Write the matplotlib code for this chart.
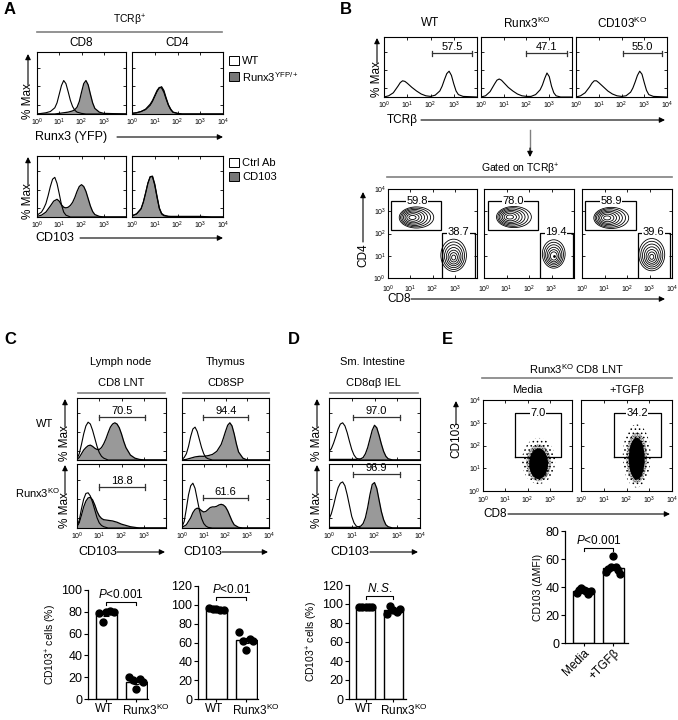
import numpy as np
import matplotlib
matplotlib.use("Agg")
import matplotlib.pyplot as plt
from matplotlib.patches import Ellipse, Rectangle
from matplotlib.transforms import ScaledTranslation

plt.rcParams.update({
    "font.family": ["Liberation Sans", "DejaVu Sans"],
    "mathtext.fontset": "custom",
    "mathtext.rm": "Liberation Sans",
    "mathtext.it": "Liberation Sans:italic",
    "mathtext.bf": "Liberation Sans:bold",
    "mathtext.sf": "Liberation Sans",
    "hatch.linewidth": 0.6,
})

# ------------------------------------------------------------------ data
# Panel A : histograms (x = log10 fluorescence, y = % of max, box = 100)
a_top_cd8_wt_x = [0, 0.4, 0.6, 0.8, 0.9, 1.0, 1.1, 1.2, 1.3, 1.4, 1.5, 1.6, 1.7, 1.8, 2.0, 2.2, 4.0]
a_top_cd8_wt_y = [0, 2, 4, 10, 18, 32, 46, 54, 49, 36, 22, 12, 6, 3, 1, 0, 0]
a_top_cd8_yfp_x = [0, 0.8, 1.0, 1.2, 1.4, 1.6, 1.7, 1.8, 1.9, 2.0, 2.1, 2.2, 2.3, 2.4, 2.5, 2.6, 2.8, 3.0, 4.0]
a_top_cd8_yfp_y = [0, 0, 1, 2, 3, 5, 7, 11, 20, 35, 49, 54, 47, 32, 18, 9, 3, 1, 0]
a_top_cd4_x = [0, 0.2, 0.4, 0.6, 0.8, 0.9, 1.0, 1.1, 1.2, 1.3, 1.4, 1.5, 1.6, 1.7, 1.8, 2.0, 2.2, 4.0]
a_top_cd4_wt_y = [1, 2, 4, 8, 16, 22, 30, 38, 43, 42, 35, 24, 14, 7, 3, 1, 0, 0]
a_top_cd4_yfp_y = [1, 2, 4, 7, 14, 20, 28, 36, 42, 44, 38, 26, 15, 8, 3, 1, 0, 0]

a_bot_cd8_ctrl_x = [0, 0.2, 0.3, 0.4, 0.5, 0.6, 0.7, 0.8, 0.9, 1.0, 1.1, 1.2, 1.3, 1.5, 4.0]
a_bot_cd8_ctrl_y = [3, 8, 14, 22, 35, 50, 62, 65, 55, 38, 20, 8, 3, 0, 0]
a_bot_cd8_cd103_x = [0, 0.2, 0.4, 0.6, 0.75, 0.9, 1.0, 1.1, 1.2, 1.3, 1.4, 1.5, 1.6, 1.7, 1.8,
                     1.9, 2.0, 2.1, 2.2, 2.3, 2.4, 2.5, 2.6, 2.8, 3.0, 4.0]
a_bot_cd8_cd103_y = [1, 3, 8, 18, 26, 29, 26, 20, 16, 15, 16, 19, 24, 32, 42,
                     50, 53, 50, 42, 30, 18, 9, 4, 1, 0, 0]
a_bot_cd4_x = [0, 0.2, 0.4, 0.5, 0.6, 0.7, 0.8, 0.9, 1.0, 1.1, 1.2, 1.3, 1.4, 1.6, 2.0, 3.0, 3.5, 4.0]
a_bot_cd4_ctrl_y = [2, 5, 14, 25, 40, 56, 66, 66, 52, 32, 14, 5, 2, 1, 0, 0, 0, 0]
a_bot_cd4_cd103_y = [2, 5, 13, 24, 39, 55, 66, 67, 54, 34, 15, 6, 3, 1, 1, 1, 0, 0]

# Panel B : TCRb histograms
b_hist_titles = ["WT", "Runx3$^{\\mathrm{KO}}$", "CD103$^{\\mathrm{KO}}$"]
b_wt_x = [0, 0.2, 0.4, 0.6, 0.7, 0.8, 0.9, 1.0, 1.2, 1.4, 1.6, 1.8, 2.0, 2.2, 2.4, 2.5,
          2.6, 2.7, 2.8, 2.9, 3.0, 3.1, 3.2, 3.4, 4.0]
b_wt_y = [0, 2, 7, 18, 24, 27, 26, 23, 16, 10, 5, 2, 1, 3, 10, 18, 29, 39, 43, 36, 22, 10, 4, 1, 0]
b_ko_x = [0, 0.2, 0.4, 0.6, 0.7, 0.8, 0.9, 1.0, 1.2, 1.4, 1.6, 1.8, 2.0, 2.2, 2.4, 2.6,
          2.7, 2.8, 2.9, 3.0, 3.1, 3.2, 3.3, 3.5, 4.0]
b_ko_y = [0, 2, 9, 22, 28, 30, 28, 24, 16, 10, 5, 2, 1, 1, 4, 12, 20, 31, 40, 34, 18, 7, 2, 0, 0]
b_cd103ko_x = b_wt_x
b_cd103ko_y = [0, 2, 7, 17, 23, 27, 27, 24, 17, 10, 5, 2, 1, 2, 8, 15, 25, 36, 43, 38, 24, 11, 4, 1, 0]
b_tcr_pct = ["57.5", "47.1", "55.0"]
b_tcr_gate = [(2.06, 3.8), (2.0, 3.8), (2.07, 3.8)]

# Panel B : CD4/CD8 contour populations (log10 units)
b_cd4_pct = ["59.8", "78.0", "58.9"]
b_cd8_pct = ["38.7", "19.4", "39.6"]
b_cd4_center = [(1.10, 2.72), (1.15, 2.74), (1.12, 2.70)]
b_cd8_center = [(2.95, 0.92), (3.10, 0.98), (3.10, 0.95)]
b_cd8_rings = [7, 6, 7]
b_cd8_scale = [1.0, 0.88, 1.0]
b_cd4_ring_w = [1.55, 1.35, 1.15, 0.95, 0.75, 0.55, 0.32]
b_cd4_ring_h = [0.95, 0.84, 0.72, 0.60, 0.48, 0.34, 0.18]
b_cd4_ring_dx = [0.18, 0.14, 0.10, 0.07, 0.04, 0.02, 0.0]
b_cd8_ring_w = [1.15, 0.98, 0.82, 0.66, 0.50, 0.34, 0.18]
b_cd8_ring_h = [1.45, 1.24, 1.03, 0.82, 0.62, 0.42, 0.22]
b_cd8_ring_dy = [0.10, 0.08, 0.06, 0.04, 0.02, 0.01, 0.0]
b_cd4_gate = [(0.13, 2.38, 2.16, 3.46), (0.18, 2.38, 2.16, 3.46), (0.13, 2.38, 2.16, 3.46)]
b_cd8_gate = [(2.43, 3.90, 0.0, 2.02), (2.47, 3.95, 0.0, 2.02), (2.47, 3.90, 0.0, 2.02)]

# Panel C : CD103 histograms
c_x_peak = [0, 0.1, 0.2, 0.3, 0.4, 0.5, 0.6, 0.7, 0.8, 0.9, 1.0, 1.1, 1.2, 1.4, 4.0]
c_ln_wt_ctrl_y = [2, 10, 25, 42, 55, 61, 58, 48, 35, 22, 12, 6, 3, 0, 0]
c_ln_wt_x = [0, 0.1, 0.2, 0.3, 0.4, 0.5, 0.6, 0.7, 0.8, 0.9, 1.0, 1.1, 1.2, 1.3, 1.4, 1.5,
             1.6, 1.7, 1.8, 1.9, 2.0, 2.1, 2.2, 2.4, 2.6, 2.8, 3.0, 4.0]
c_ln_wt_y = [1, 4, 10, 16, 20, 23, 24, 22, 19, 17, 17, 20, 26, 34, 44, 53,
             58, 60, 58, 52, 42, 30, 20, 8, 3, 1, 0, 0]
c_ln_ko_ctrl_y = [3, 12, 30, 45, 54, 55, 50, 40, 28, 16, 8, 4, 2, 0, 0]
c_ln_ko_x = [0, 0.1, 0.2, 0.3, 0.4, 0.5, 0.6, 0.7, 0.8, 0.9, 1.0, 1.1, 1.2, 1.4, 1.6, 1.8,
             2.0, 2.2, 2.4, 2.6, 2.8, 4.0]
c_ln_ko_y = [2, 8, 20, 33, 42, 47, 48, 44, 36, 26, 19, 15, 13, 12, 11, 9, 6, 4, 2, 1, 0, 0]
c_th_wt_ctrl_y = [1, 4, 10, 22, 38, 50, 53, 46, 33, 20, 10, 4, 2, 0, 0]
c_th_wt_x = [0, 0.2, 0.4, 0.6, 0.8, 1.0, 1.2, 1.4, 1.6, 1.8, 1.9, 2.0, 2.1, 2.2, 2.3, 2.4,
             2.5, 2.6, 2.8, 3.0, 4.0]
c_th_wt_y = [0, 1, 3, 5, 6, 6, 7, 9, 14, 25, 35, 46, 56, 60, 55, 42, 26, 13, 3, 0, 0]
c_th_ko_ctrl_y = [2, 10, 30, 52, 66, 70, 62, 45, 28, 15, 7, 3, 1, 0, 0]
c_th_ko_x = [0, 0.2, 0.4, 0.5, 0.6, 0.7, 0.8, 0.9, 1.0, 1.1, 1.2, 1.3, 1.4, 1.5, 1.6, 1.7,
             1.8, 1.9, 2.0, 2.1, 2.2, 2.3, 2.4, 2.6, 2.8, 4.0]
c_th_ko_y = [1, 5, 16, 24, 29, 31, 30, 27, 25, 26, 29, 32, 33, 33, 34, 36,
             37, 36, 33, 27, 19, 11, 5, 1, 0, 0]
c_pct = ["70.5", "94.4", "18.8", "61.6"]

# Panel D : CD103 histograms (IEL)
d_wt_ctrl_y = [14, 18, 27, 38, 50, 58, 60, 55, 44, 30, 17, 8, 3, 0, 0]
d_ko_ctrl_y = [14, 22, 35, 50, 63, 70, 72, 66, 52, 35, 18, 8, 3, 0, 0]
d_pos_x = [0, 1.2, 1.4, 1.5, 1.6, 1.7, 1.8, 1.9, 2.0, 2.1, 2.2, 2.3, 2.4, 2.5, 2.6, 2.8, 4.0]
d_wt_y = [1, 1, 2, 4, 10, 20, 34, 48, 56, 52, 40, 26, 14, 6, 2, 0, 0]
d_ko_y = [1, 1, 3, 7, 16, 32, 52, 68, 71, 62, 44, 26, 13, 5, 2, 0, 0]
d_pct = ["97.0", "96.9"]

# Panel E : dot plots (population core / spread in log10 units)
e_titles = ["Media", "+TGFβ"]
e_pct = ["7.0", "34.2"]
e_center = [(2.50, 1.20), (2.45, 1.42)]
e_core_size = [(0.85, 1.35), (0.70, 1.85)]

# Bar graphs
bar_labels = ["WT", "Runx3$^{\\mathrm{KO}}$"]
c_ln_wt_vals = [79, 71, 80, 81, 80]
c_ln_ko_vals = [20, 17, 9, 18, 16]
c_th_wt_vals = [97, 96, 96, 95, 95]
c_th_ko_vals = [71, 62, 52, 64, 62]
d_wt_vals = [97, 97, 97, 97, 97]
d_ko_vals = [90, 98, 94, 92, 95]
e_labels = ["Media", "+TGFβ"]
e_media_vals = [36, 38, 39, 38, 37, 35, 37]
e_tgf_vals = [51, 53, 54, 62, 54, 52, 49]

# ------------------------------------------------------------------ figure
W, H = 678, 720
fig = plt.figure(figsize=(W / 100, H / 100), dpi=100)
GRAY = "#999999"
LINEGRAY = "#808080"


def add_ax(x0, y0, x1, y1):
    return fig.add_axes([x0 / W, 1 - y1 / H, (x1 - x0) / W, (y1 - y0) / H])


def dec_labels(last=True):
    labs = ["$10^{%d}$" % i for i in range(5)]
    if not last:
        labs[-1] = ""
    return labs


def flow_ax(box, xlabels=True, last=True, ylim=100, ylabels=False):
    ax = add_ax(*box)
    ax.set_xlim(0, 4)
    ax.set_ylim(0, ylim)
    ax.set_xticks(range(5))
    if xlabels:
        ax.set_xticklabels(dec_labels(last))
    else:
        ax.set_xticklabels([])
    if ylabels:
        ax.set_yticks(range(5))
        ax.set_yticklabels(dec_labels(True))
    else:
        ax.set_yticks([15, 45, 75] if ylim == 100 else range(5))
        ax.set_yticklabels([])
    ax.tick_params(direction="in", top=True, right=True, length=2.2, width=0.6,
                   labelsize=5, pad=1.5)
    ax.tick_params(axis="x", pad=2.2)
    for s in ax.spines.values():
        s.set_linewidth(0.8)
    return ax


def hist(ax, x, y, gray):
    if gray:
        ax.fill_between(x, 0, y, color=GRAY, lw=0, zorder=2)
        ax.plot(x, y, color="k", lw=0.9, zorder=3)
    else:
        ax.plot(x, y, color="k", lw=0.8, zorder=4)


def hgate(ax, x0, x1, y, label):
    ax.plot([x0, x1], [y, y], color="#333333", lw=0.9, zorder=5)
    ax.plot([x0, x0], [y - 4, y + 4], color="#333333", lw=0.9, zorder=5)
    ax.plot([x1, x1], [y - 4, y + 4], color="#333333", lw=0.9, zorder=5)
    ax.text((x0 + x1) / 2, y + 2, label, ha="center", va="bottom", fontsize=8, zorder=6)


# ---------------- Panel A
A_boxes = [(37, 52, 126, 114), (132, 52, 223, 114), (37, 156, 126, 217), (132, 156, 223, 217)]
ax = flow_ax(A_boxes[0], last=False)
hist(ax, a_top_cd8_yfp_x, a_top_cd8_yfp_y, True)
hist(ax, a_top_cd8_wt_x, a_top_cd8_wt_y, False)
ax = flow_ax(A_boxes[1])
hist(ax, a_top_cd4_x, a_top_cd4_yfp_y, True)
hist(ax, a_top_cd4_x, a_top_cd4_wt_y, False)
ax = flow_ax(A_boxes[2], last=False)
hist(ax, a_bot_cd8_cd103_x, a_bot_cd8_cd103_y, True)
hist(ax, a_bot_cd8_ctrl_x, a_bot_cd8_ctrl_y, False)
ax = flow_ax(A_boxes[3])
hist(ax, a_bot_cd4_x, a_bot_cd4_cd103_y, True)
hist(ax, a_bot_cd4_x, a_bot_cd4_ctrl_y, False)

# ---------------- Panel B (histograms)
B_top = [(384, 37, 477, 97), (481, 37, 572, 97), (576, 37, 667, 97)]
b_curves = [(b_wt_x, b_wt_y), (b_ko_x, b_ko_y), (b_cd103ko_x, b_cd103ko_y)]
for i, box in enumerate(B_top):
    ax = flow_ax(box, last=(i == 2))
    hist(ax, b_curves[i][0], b_curves[i][1], False)
    hgate(ax, b_tcr_gate[i][0], b_tcr_gate[i][1], 73, b_tcr_pct[i])

# ---------------- Panel B (contours)
B_bot = [(388, 189, 477, 278), (484, 189, 574, 278), (582, 189, 672, 278)]
for i, box in enumerate(B_bot):
    ax = flow_ax(box, last=(i == 2), ylim=4, ylabels=(i == 0))
    ax.tick_params(axis="y", length=2.2, labelsize=5)
    ax.tick_params(axis="x", pad=4)
    cx, cy = b_cd4_center[i]
    for w, h, dx in zip(b_cd4_ring_w, b_cd4_ring_h, b_cd4_ring_dx):
        ax.add_patch(Ellipse((cx + dx, cy), w, h, fill=False, ec="k", lw=0.6))
    cx, cy = b_cd8_center[i]
    sc = b_cd8_scale[i]
    n = b_cd8_rings[i]
    for w, h, dy in list(zip(b_cd8_ring_w, b_cd8_ring_h, b_cd8_ring_dy))[:n]:
        ax.add_patch(Ellipse((cx, cy + dy), w * sc, h * sc, fill=False, ec="k", lw=0.6))
    if n < 7:
        ax.plot([cx], [cy], "k.", ms=2)
    x0, x1, y0, y1 = b_cd4_gate[i]
    ax.add_patch(Rectangle((x0, y0), x1 - x0, y1 - y0, fill=False, ec="k", lw=0.9))
    ax.text(1.3, y1 + 0.02, b_cd4_pct[i], ha="center", va="center", fontsize=8,
            bbox=dict(fc="white", ec="none", pad=0.3), zorder=6)
    x0, x1, y0, y1 = b_cd8_gate[i]
    ax.plot([x0, x0, x1, x1], [y0, y1, y1, y0], color="k", lw=0.9)
    ax.text((x0 + x1) / 2, y1 + 0.05, b_cd8_pct[i], ha="center", va="center", fontsize=8,
            bbox=dict(fc="white", ec="none", pad=0.3), zorder=6)

# ---------------- Panel C histograms
C_boxes = [(77, 398, 166, 460), (182, 398, 269, 460), (77, 464, 166, 528), (182, 464, 269, 528)]
c_data = [
    (c_x_peak, c_ln_wt_ctrl_y, c_ln_wt_x, c_ln_wt_y, 69),
    (c_x_peak, c_th_wt_ctrl_y, c_th_wt_x, c_th_wt_y, 69),
    (c_x_peak, c_ln_ko_ctrl_y, c_ln_ko_x, c_ln_ko_y, 64),
    (c_x_peak, c_th_ko_ctrl_y, c_th_ko_x, c_th_ko_y, 47),
]
for i, box in enumerate(C_boxes):
    ax = flow_ax(box, xlabels=(i >= 2), last=(i % 2 == 1))
    cx_, cy_, gx, gy, gl = c_data[i]
    hist(ax, gx, gy, True)
    hist(ax, cx_, cy_, False)
    g0 = 1.0 if i % 2 == 0 else 0.97
    hgate(ax, g0, 3.05, gl, c_pct[i])

# ---------------- Panel D histograms
D_boxes = [(329, 398, 420, 460), (329, 464, 420, 528)]
d_data = [(d_wt_ctrl_y, d_wt_y, 69), (d_ko_ctrl_y, d_ko_y, 84)]
for i, box in enumerate(D_boxes):
    ax = flow_ax(box, xlabels=(i == 1))
    hist(ax, d_pos_x, d_data[i][1], True)
    hist(ax, c_x_peak, d_data[i][0], False)
    hgate(ax, 1.05, 3.1, d_data[i][2], d_pct[i])

# ---------------- Panel E dot plots
E_boxes = [(483, 400, 572, 491), (581, 400, 672, 491)]
for i, box in enumerate(E_boxes):
    ax = flow_ax(box, last=(i == 1), ylim=4, ylabels=(i == 0))
    ax.tick_params(axis="x", pad=3)
    cx, cy = e_center[i]
    w, h = e_core_size[i]
    ax.add_patch(Ellipse((cx, cy + 0.12), w * 1.75, h * 1.5, fc="none", ec="k", lw=0,
                         hatch="....", zorder=2))
    ax.add_patch(Ellipse((cx, cy + 0.04), w * 1.3, h * 1.2, fc="none", ec="k", lw=0,
                         hatch="..........", zorder=2))
    ax.add_patch(Ellipse((cx, cy), w, h, fc="k", ec="none", zorder=3))
    ax.plot([1.45, 1.45, 3.5, 3.5, 1.45], [1.48, 3.43, 3.43, 1.48, 1.48], color="k", lw=0.9, zorder=4)
    ax.text(2.47, 3.45, e_pct[i], ha="center", va="center", fontsize=8,
            bbox=dict(fc="white", ec="none", pad=0.3), zorder=6)


# ---------------- bar graphs
def bar_panel(box, ylim, yticks, labels, groups, ptext, bracket_y, ylabel=None, rot=0,
              xlim=(-0.62, 1.4), label_dx=(0, 0)):
    ax = add_ax(*box)
    n = len(groups)
    for k, vals in enumerate(groups):
        m = np.mean(vals)
        sem = np.std(vals, ddof=1) / np.sqrt(len(vals))
        ax.bar(k, m, width=0.7, color="white", edgecolor="k", lw=1.0, zorder=1)
        ax.errorbar(k, m, yerr=sem, color="k", capsize=2.5, lw=0.8, capthick=0.8, zorder=2)
        offs = np.linspace(-0.24, 0.24, len(vals))
        ax.plot(k + offs, vals, "o", color="k", ms=5, zorder=3)
    ax.set_xlim(*xlim)
    ax.set_ylim(0, ylim)
    ax.set_yticks(yticks)
    ax.set_xticks(range(n))
    if rot:
        ax.set_xticklabels(labels, rotation=rot, ha="right", rotation_mode="anchor", fontsize=8.5)
    else:
        ax.set_xticklabels(labels, fontsize=8.5)
    ax.tick_params(axis="y", labelsize=9, length=3, width=0.8, pad=1)
    ax.tick_params(axis="x", length=2.5, width=0.8, pad=0.5)
    for lab, dx in zip(ax.get_xticklabels(), label_dx):
        lab.set_transform(lab.get_transform() + ScaledTranslation(dx / 100, 0, fig.dpi_scale_trans))
    for s in ["top", "right"]:
        ax.spines[s].set_visible(False)
    for s in ["left", "bottom"]:
        ax.spines[s].set_linewidth(0.9)
    dy = ylim * 0.025
    ax.plot([0, 0, 1, 1], [bracket_y - dy, bracket_y, bracket_y, bracket_y - dy], color="k", lw=0.8, clip_on=False)
    ax.text(0.5, bracket_y + ylim * 0.01, ptext, ha="center", va="bottom", fontsize=8.5, clip_on=False)
    if ylabel:
        ax.set_ylabel(ylabel, fontsize=7.5, labelpad=2)
    return ax


bar_panel((88, 590, 148, 699), 100, range(0, 101, 20), bar_labels, [c_ln_wt_vals, c_ln_ko_vals],
          "$\\mathit{P}$<0.001", 89, ylabel="CD103$^{+}$ cells (%)", label_dx=(-2, 10))
bar_panel((198, 586, 258, 699), 120, range(0, 121, 20), bar_labels, [c_th_wt_vals, c_th_ko_vals],
          "$\\mathit{P}$<0.01", 108, label_dx=(-2, 10))
bar_panel((349, 585, 406, 699), 120, range(0, 121, 20), bar_labels, [d_wt_vals, d_ko_vals],
          "$\\mathit{N.S.}$", 108, ylabel="CD103$^{+}$ cells (%)", xlim=(-0.6, 1.45), label_dx=(-2, 10))
bar_panel((565, 531, 628, 643), 80, range(0, 81, 20), e_labels, [e_media_vals, e_tgf_vals],
          "$\\mathit{P}$<0.001", 68, ylabel="CD103 (ΔMFI)", rot=45, xlim=(-0.63, 1.5))

# ------------------------------------------------------------------ overlay (text, arrows)
ov = fig.add_axes([0, 0, 1, 1])
ov.set_xlim(0, W)
ov.set_ylim(H, 0)
ov.axis("off")
ov.set_zorder(20)


def T(x, y, s, size=8, ha="center", va="center", **kw):
    ov.text(x, y, s, fontsize=size, ha=ha, va=va, **kw)


def ARR(x0, y0, x1, y1):
    ov.annotate("", xy=(x1, y1), xytext=(x0, y0),
                arrowprops=dict(arrowstyle="-|>", color="k", lw=0.8, mutation_scale=8,
                                shrinkA=0, shrinkB=0))


def HL(x0, x1, y):
    ov.plot([x0, x1], [y, y], color=LINEGRAY, lw=1.2)


# panel letters
for lab, (x, y) in {"A": (10, 10), "B": (346, 10), "C": (10, 340), "D": (294, 340), "E": (447, 340)}.items():
    T(x, y, lab, size=12, fontweight="bold")

# A
T(130, 20, "TCRβ$^{+}$", size=7.5)
HL(37, 222, 32)
T(81, 43, "CD8", size=8.5)
T(177, 43, "CD4", size=8.5)
ov.add_patch(Rectangle((229, 56), 10, 9, fc="white", ec="k", lw=0.7))
ov.add_patch(Rectangle((229, 72), 10, 9, fc="#777777", ec="k", lw=0.7))
T(242, 61, "WT", ha="left")
T(242, 77, "Runx3$^{\\mathrm{YFP/+}}$", ha="left")
ov.add_patch(Rectangle((229, 158), 10, 9, fc="white", ec="k", lw=0.7))
ov.add_patch(Rectangle((229, 172), 10, 9, fc="#777777", ec="k", lw=0.7))
T(242, 163, "Ctrl Ab", ha="left")
T(242, 177, "CD103", ha="left")
T(28, 101, "% Max", size=8.5, rotation=90)
ARR(28, 85, 28, 54)
T(28, 201, "% Max", size=8.5, rotation=90)
ARR(28, 185, 28, 157)
T(35, 137, "Runx3 (YFP)", size=9, ha="left")
ARR(117, 137, 223, 137)
T(35, 238, "CD103", size=9, ha="left")
ARR(80, 238, 223, 238)

# B
for x, s in zip([430, 527, 622], b_hist_titles):
    T(x, 23, s, size=8.5)
T(377, 79, "% Max", size=8.5, rotation=90)
ARR(377, 63, 377, 38)
T(387, 120, "TCRβ", size=8.5, ha="left")
ARR(421, 120, 665, 120)
ov.plot([530, 530], [130, 150], color=LINEGRAY, lw=1.0)
ARR(530, 148, 530, 157)
T(520, 169, "Gated on TCRβ$^{+}$", size=7.5)
HL(387, 672, 177)
T(363, 255, "CD4", size=8.5, rotation=90)
ARR(363, 242, 363, 192)
T(387, 299, "CD8", size=8.5, ha="left")
ARR(411, 299, 665, 299)

# C
T(121, 362, "Lymph node", size=8)
T(226, 362, "Thymus", size=8)
T(121, 383, "CD8 LNT", size=8)
T(226, 383, "CD8SP", size=8)
HL(78, 165, 393)
HL(183, 269, 393)
T(45, 424, "WT", size=8)
T(38, 493, "Runx3$^{\\mathrm{KO}}$", size=8)
T(65, 443, "% Max", size=8.5, rotation=90)
ARR(65, 427, 65, 399)
T(65, 510, "% Max", size=8.5, rotation=90)
ARR(65, 494, 65, 465)
T(78, 552, "CD103", size=9, ha="left")
ARR(117, 552, 165, 552)
T(183, 552, "CD103", size=9, ha="left")
ARR(222, 552, 268, 552)

# D
T(373, 362, "Sm. Intestine", size=8)
T(373, 383, "CD8αβ IEL", size=8)
HL(330, 418, 393)
T(317, 443, "% Max", size=8.5, rotation=90)
ARR(317, 427, 317, 399)
T(317, 510, "% Max", size=8.5, rotation=90)
ARR(317, 494, 317, 465)
T(330, 552, "CD103", size=9, ha="left")
ARR(370, 552, 418, 552)

# E
T(577, 369, "Runx3$^{\\mathrm{KO}}$ CD8 LNT", size=8)
HL(482, 672, 378)
T(527, 390, e_titles[0], size=8)
T(627, 390, e_titles[1], size=8)
T(456, 440, "CD103", size=8.5, rotation=90)
ARR(456, 424, 456, 401)
T(483, 514, "CD8", size=8.5, ha="left")
ARR(508, 514, 670, 514)

fig.savefig("out.png", dpi=100)
